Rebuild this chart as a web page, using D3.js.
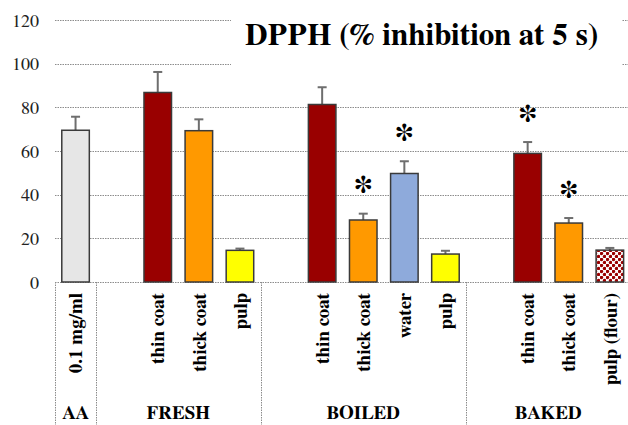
<!DOCTYPE html>
<html>
<head>
<meta charset="utf-8">
<script src="https://cdn.jsdelivr.net/npm/d3@7"></script>
<style>
  html, body { margin: 0; padding: 0; background: #fff; }
  svg { display: block; }
</style>
</head>
<body>
<svg id="chart" width="628" height="425"></svg>
<script>
// Slot labels along the x axis (empty strings are spacer slots between groups)
const categories = ["0.1 mg/ml", "", "thin coat", "thick coat", "pulp", "",
  "thin coat", "thick coat", "water", "pulp", "",
  "thin coat", "thick coat", "pulp (flour)"];
// Mean % inhibition per slot (null = no bar)
const values = [69.5, null, 86.8, 69.3, 14.5, null,
  81.3, 28.4, 49.7, 12.8, null,
  58.9, 27.0, 14.6];
// Upper error (standard deviation) per slot
const errors = [6.2, null, 9.4, 5.2, 0.8, null,
  7.9, 2.9, 5.6, 1.5, null,
  5.2, 2.3, 1.0];
// Significance markers
const significant = [false, false, false, false, false, false,
  false, true, true, false, false,
  true, true, false];
// Fill for each bar
const fills = ["#e6e6e6", null, "#990000", "#ff9900", "#ffff00", null,
  "#990000", "#ff9900", "#8eaadb", "#ffff00", null,
  "#990000", "#ff9900", "url(#dots)"];
// Group names with how many slots each spans
const groups = ["AA", "FRESH", "BOILED", "BAKED"];
const groupSizes = [1, 4, 5, 4];
const yTicks = [0, 20, 40, 60, 80, 100, 120];
const title = "DPPH (% inhibition at 5 s)";

const svg = d3.select("#chart");
const serif = "FreeSerif, 'Liberation Serif', 'Times New Roman', serif";

const plotLeft = 55, plotRight = 630.4, plotTop = 20, plotBottom = 282;
const x = d3.scaleBand().domain(d3.range(categories.length))
  .range([plotLeft, plotRight]).paddingInner(0.33).paddingOuter(0.165);
const y = d3.scaleLinear().domain([0, 120]).range([plotBottom, plotTop]);

// dotted fill for the baked pulp bar
const defs = svg.append("defs");
const pat = defs.append("pattern").attr("id", "dots")
  .attr("patternUnits", "userSpaceOnUse").attr("width", 6).attr("height", 6);
pat.append("rect").attr("width", 6).attr("height", 6).attr("fill", "#ffffff");
pat.append("circle").attr("cx", 1.5).attr("cy", 1.5).attr("r", 1.7).attr("fill", "#9a0000");
pat.append("circle").attr("cx", 4.5).attr("cy", 4.5).attr("r", 1.7).attr("fill", "#9a0000");

// horizontal gridlines
svg.append("g").selectAll("line").data(yTicks).join("line")
  .attr("x1", plotLeft).attr("x2", 628)
  .attr("y1", d => Math.round(y(d)) + 0.5).attr("y2", d => Math.round(y(d)) + 0.5)
  .attr("stroke", "#8c8c8c").attr("stroke-width", 1).attr("stroke-dasharray", "1.5,1");

// y tick labels
const yAxis = d3.axisLeft(y).tickValues(yTicks).tickSize(0).tickPadding(0);
const ya = svg.append("g").attr("transform", "translate(39,0)").call(yAxis);
ya.select(".domain").remove();
ya.selectAll("text").attr("font-family", serif).attr("font-size", 18)
  .attr("fill", "#222").attr("dy", "0.34em");

// title with a white backing over the upper gridlines
svg.append("rect").attr("x", 231).attr("y", 10).attr("width", 391).attr("height", 62).attr("fill", "#fff");
svg.append("text").attr("x", 245).attr("y", 45)
  .attr("font-family", serif).attr("font-size", 31).attr("font-weight", "bold")
  .attr("fill", "#000").text(title);

const idx = d3.range(categories.length).filter(i => values[i] !== null);

// error bars
const eb = svg.append("g").attr("stroke", "#6e6e6e").attr("stroke-width", 2);
eb.selectAll("line.v").data(idx).join("line").attr("class", "v")
  .attr("x1", i => x(i) + x.bandwidth() / 2).attr("x2", i => x(i) + x.bandwidth() / 2)
  .attr("y1", i => y(values[i])).attr("y2", i => y(values[i] + errors[i]));
eb.selectAll("line.c").data(idx).join("line").attr("class", "c")
  .attr("x1", i => x(i) + x.bandwidth() / 2 - 4.5).attr("x2", i => x(i) + x.bandwidth() / 2 + 4.5)
  .attr("y1", i => y(values[i] + errors[i])).attr("y2", i => y(values[i] + errors[i]));

// bars
svg.append("g").selectAll("rect").data(idx).join("rect")
  .attr("x", i => x(i)).attr("width", x.bandwidth())
  .attr("y", i => y(values[i])).attr("height", i => y(0) - y(values[i]))
  .attr("fill", i => fills[i]).attr("stroke", "#3a3a3a").attr("stroke-width", 1.5);

// significance asterisks
svg.append("g").selectAll("text").data(idx.filter(i => significant[i])).join("text")
  .attr("x", i => x(i) + x.bandwidth() / 2)
  .attr("y", i => y(values[i] + errors[i]) - 10.5)
  .attr("text-anchor", "middle").attr("font-family", serif)
  .attr("font-size", 40).attr("font-weight", "bold").attr("fill", "#000")
  .text("*");

// rotated slot labels
svg.append("g").selectAll("text").data(idx).join("text")
  .attr("transform", i => `translate(${x(i) + x.bandwidth() / 2},293) rotate(-90)`)
  .attr("dy", "0.35em").attr("text-anchor", "end")
  .attr("font-family", serif).attr("font-size", 19).attr("font-weight", "bold")
  .attr("fill", "#000").text(i => categories[i]);

// group separators and names
let start = 0;
const bounds = [];
groupSizes.forEach((n, g) => {
  const x0 = x(start) - x.step() * x.paddingInner() / 2;
  const x1 = x(start + n - 1) + x.bandwidth() + x.step() * x.paddingInner() / 2;
  bounds.push({ g, x0, x1 });
  start += n;
});
svg.append("g").selectAll("line").data(bounds).join("line")
  .attr("x1", d => Math.round(d.x0) + 0.5).attr("x2", d => Math.round(d.x0) + 0.5)
  .attr("y1", plotBottom).attr("y2", 425)
  .attr("stroke", "#8c8c8c").attr("stroke-width", 1).attr("stroke-dasharray", "1.5,1");
svg.append("g").selectAll("text").data(bounds).join("text")
  .attr("x", d => (d.x0 + d.x1) / 2).attr("y", 419)
  .attr("text-anchor", "middle").attr("font-family", serif)
  .attr("font-size", 19).attr("font-weight", "bold").attr("fill", "#000")
  .text(d => groups[d.g]);
</script>
</body>
</html>
